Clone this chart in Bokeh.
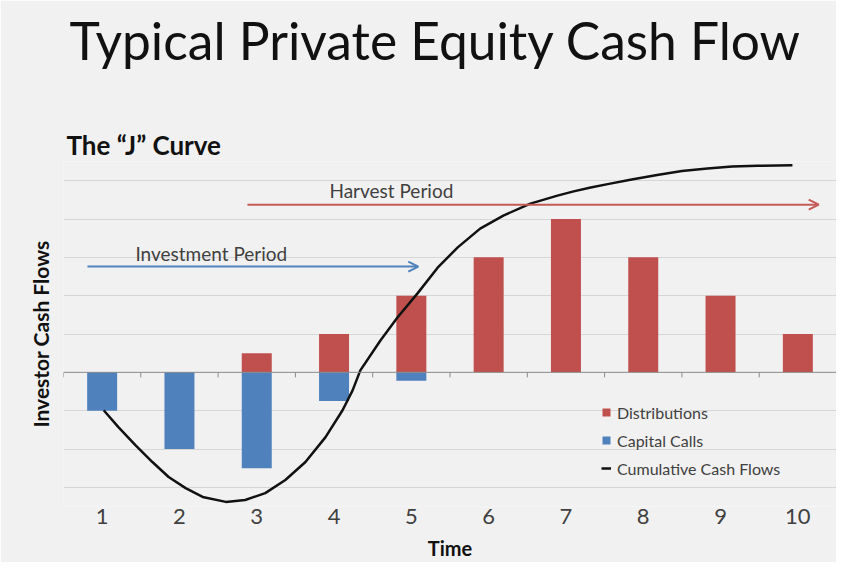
from bokeh.plotting import figure
from bokeh.models import (Range1d, FixedTicker, Span, Arrow, OpenHead, Label,
                          Legend, LegendItem, Title)
from bokeh.embed import file_html
from bokeh.resources import INLINE

# ---------------- data ----------------
periods = [1, 2, 3, 4, 5, 6, 7, 8, 9, 10]
tick_labels = ["1", "2", "3", "4", "5", "6", "7", "8", "9", "10"]
distributions = [0, 0, 0.5, 1, 2, 3, 4, 3, 2, 1]
capital_calls = [-1, -2, -2.5, -0.75, -0.22, 0, 0, 0, 0, 0]
cum_x = [1.02, 1.21, 1.43, 1.65, 1.86, 2.08, 2.30, 2.60, 2.85, 3.11, 3.37,
         3.63, 3.89, 4.11, 4.24, 4.34, 4.60, 4.82, 5.08, 5.34, 5.60, 5.89,
         6.19, 6.54, 6.89, 7.10, 7.32, 7.54, 7.85, 8.18, 8.50, 8.83, 9.15,
         9.48, 9.93]
cum_y = [-0.99, -1.43, -1.90, -2.34, -2.73, -3.02, -3.25, -3.38, -3.33, -3.15,
         -2.81, -2.34, -1.69, -0.99, -0.47, 0.05, 0.83, 1.43, 2.06, 2.73, 3.26,
         3.75, 4.09, 4.40, 4.61, 4.72, 4.82, 4.91, 5.03, 5.15, 5.25, 5.32,
         5.37, 5.39, 5.40]
grid_values = [-3, -2, -1, 1, 2, 3, 4, 5]

BG = "#f1f1f1"
RED = "#c0504d"
BLUE = "#4f81bd"
ARROW_RED = "#c55a57"
TXT = "#404040"
DARK = "#111111"

p = figure(width=836, height=562,
           x_range=Range1d(0.5, 10.5), y_range=Range1d(-3.5, 5.5),
           output_backend="svg", toolbar_location=None,
           background_fill_color=BG, border_fill_color=BG,
           outline_line_color=None,
           min_border_left=63, min_border_right=0,
           min_border_bottom=56, min_border_top=161)

# titles: p.title is outermost; the first added Title sits next to the frame
p.title.text = "Typical Private Equity Cash Flow"
p.title.text_font = "Lato"
p.title.text_font_size = "51.5px"
p.title.text_font_style = "normal"
p.title.text_color = DARK
p.title.align = "left"
p.title.offset = 6
p.title.standoff = 8
sub_title = Title(text="The \u201cJ\u201d Curve", text_font="Lato",
                  text_font_size="26px", text_font_style="bold",
                  text_color=DARK, align="left", offset=3, standoff=1)
p.add_layout(sub_title, "above")
spacer = Title(text=" ", text_font="Lato", text_font_size="2px",
               standoff=48, align="left")
p.add_layout(spacer, "above")

# grid
p.xgrid.visible = False
p.ygrid.ticker = FixedTicker(ticks=grid_values)
p.ygrid.grid_line_color = "#d6d6d6"
p.ygrid.grid_line_width = 1

# y axis (label only)
p.yaxis.ticker = FixedTicker(ticks=[])
p.yaxis.axis_line_color = None
p.yaxis.major_tick_line_color = None
p.yaxis.minor_tick_line_color = None
p.yaxis.axis_label = "Investor Cash Flows"
p.yaxis.axis_label_text_font = "Lato"
p.yaxis.axis_label_text_font_size = "21px"
p.yaxis.axis_label_text_font_style = "bold"
p.yaxis.axis_label_text_color = DARK
p.yaxis.axis_label_standoff = 11

# x axis (labels at bottom)
p.xaxis.ticker = FixedTicker(ticks=periods)
p.xaxis.major_label_overrides = {k: v for k, v in zip(periods, tick_labels)}
p.xaxis.axis_line_color = None
p.xaxis.major_tick_line_color = None
p.xaxis.minor_tick_line_color = None
p.xaxis.major_label_text_font = "Lato"
p.xaxis.major_label_text_font_size = "22px"
p.xaxis.major_label_text_color = TXT
p.xaxis.major_label_standoff = -4
p.xaxis.axis_label = "Time"
p.xaxis.axis_label_text_font = "Lato"
p.xaxis.axis_label_text_font_size = "20px"
p.xaxis.axis_label_text_font_style = "bold"
p.xaxis.axis_label_text_color = DARK
p.xaxis.axis_label_standoff = 9

# bars
r_dist = p.vbar(x=periods, top=distributions, bottom=0, width=0.388,
                fill_color=RED, line_color=None)
r_calls = p.vbar(x=periods, top=0, bottom=capital_calls, width=0.388,
                 fill_color=BLUE, line_color=None)

# zero axis line with category-boundary ticks
p.add_layout(Span(location=0, dimension="width", line_color="#8a8a8a",
                  line_width=1))
bounds = [x - 0.5 for x in periods] + [periods[-1] + 0.5]
p.segment(x0=bounds, y0=[0] * len(bounds), x1=bounds, y1=[-0.13] * len(bounds),
          line_color="#8a8a8a", line_width=1)

# cumulative curve
r_cum = p.line(cum_x, cum_y, line_color=DARK, line_width=2.5,
               line_join="round")

# period arrows
p.add_layout(Arrow(end=OpenHead(size=10, line_color=BLUE, line_width=2),
                   x_start=0.81, y_start=2.76, x_end=5.09, y_end=2.76,
                   line_color=BLUE, line_width=2))
p.add_layout(Arrow(end=OpenHead(size=10, line_color=ARROW_RED, line_width=2),
                   x_start=2.88, y_start=4.375, x_end=10.27, y_end=4.375,
                   line_color=ARROW_RED, line_width=2))
p.add_layout(Label(x=1.43, y=3.1, text="Investment Period", text_font="Lato",
                   text_font_size="19px", text_color=TXT,
                   text_baseline="middle"))
p.add_layout(Label(x=3.94, y=4.74, text="Harvest Period", text_font="Lato",
                   text_font_size="19px", text_color=TXT,
                   text_baseline="middle"))

# legend
legend = Legend(items=[LegendItem(label="Distributions", renderers=[r_dist]),
                       LegendItem(label="Capital Calls", renderers=[r_calls]),
                       LegendItem(label="Cumulative Cash Flows", renderers=[r_cum])],
                location=(538, 28), orientation="vertical",
                glyph_width=10, glyph_height=10, label_standoff=6,
                label_height=20, spacing=8, padding=0, margin=0,
                background_fill_alpha=0, border_line_color=None,
                label_text_font="Lato", label_text_font_size="16px",
                label_text_color=TXT)
p.add_layout(legend)

open("out.html", "w").write(file_html(p, INLINE))
